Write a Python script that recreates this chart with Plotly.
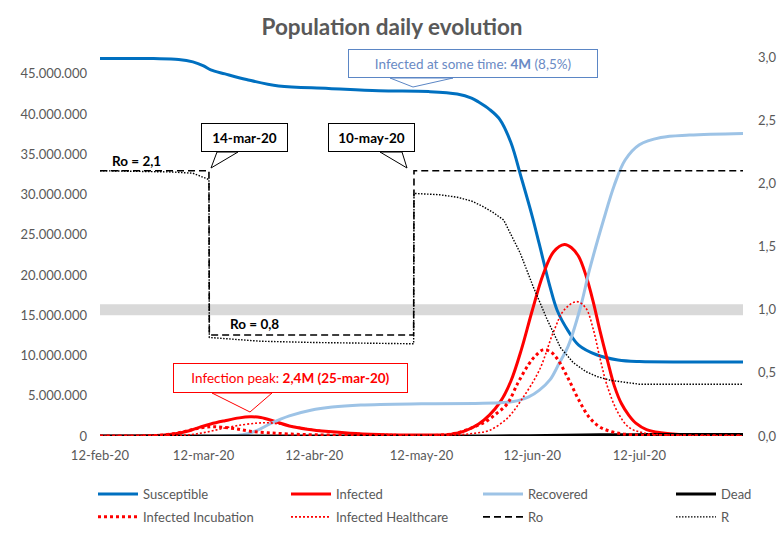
import pandas as pd
import plotly.graph_objects as go

START = pd.Timestamp("2020-02-12")
END_DAY = 180

# ---------------- data (days since 12-feb-20, values in millions / ratio) ----------------
sus_days = [0, 15, 22, 26, 29, 31, 35, 41, 50, 64, 78, 92, 100, 104, 106, 109, 112, 115, 118, 121,
            123, 126, 128, 131, 134, 139, 145, 151, 165, 180]
sus_vals = [46.9, 46.9, 46.8, 46.5, 46.0, 45.5, 45.0, 44.3, 43.5, 43.2, 42.9, 42.8, 42.5, 42.0, 41.5,
            40.6, 39.3, 36.5, 32.0, 27.3, 23.8, 18.5, 15.6, 13.1, 11.3, 10.1, 9.45, 9.25, 9.2, 9.2]

inf_days = [0, 12, 18, 22, 25, 28, 31, 35, 39, 42, 45, 49, 53, 58, 64, 70, 78, 86, 94, 98,
            102, 106, 109, 112, 115, 118, 121, 124, 127, 130, 132, 134, 136, 138, 140, 142, 144, 146,
            148, 150, 153, 157, 163, 170, 180]
inf_vals = [0, 0.02, 0.12, 0.35, 0.65, 1.1, 1.5, 1.9, 2.25, 2.38, 2.3, 1.8, 1.25, 0.85, 0.55, 0.35,
            0.2, 0.13, 0.12, 0.2, 0.6, 1.5, 2.6, 4.2, 6.8, 10.8, 15.6, 20.0, 22.9, 23.8, 23.4, 22.3,
            20.0, 16.8, 13.0, 9.5, 6.2, 4.0, 2.6, 1.6, 0.8, 0.4, 0.15, 0.08, 0.05]

rec_days = [0, 35, 40, 44, 48, 53, 59, 65, 73, 90, 105, 113, 117, 120, 123, 126, 128.5, 131, 134.5,
            137, 141, 144, 147, 151, 157, 165, 180]
rec_vals = [0, 0, 0.15, 0.7, 1.6, 2.5, 3.2, 3.6, 3.85, 4.0, 4.05, 4.15, 4.4, 4.85, 5.7, 7.0, 9.0,
            11.1, 16.0, 20.6, 26.9, 31.2, 34.3, 36.2, 37.1, 37.4, 37.6]

dead_days = [0, 100, 110, 120, 130, 140, 150, 160, 180]
dead_vals = [0, 0.0, 0.01, 0.04, 0.09, 0.14, 0.17, 0.19, 0.2]

inc_days = [0, 15, 20, 24, 28, 31, 34, 38, 42, 47, 53, 60, 70, 85, 95, 100, 104, 108, 111, 114,
            117, 120, 122, 124, 126, 128, 131, 134, 137, 140, 144, 149, 160, 180]
inc_vals = [0, 0.05, 0.25, 0.6, 1.0, 1.15, 1.1, 0.9, 0.6, 0.4, 0.25, 0.15, 0.08, 0.05, 0.1, 0.4,
            1.0, 1.8, 2.8, 4.0, 6.6, 8.9, 10.0, 10.7, 10.5, 9.6, 7.2, 4.5, 2.3, 1.1, 0.45, 0.15,
            0.05, 0.02]

hc_days = [0, 20, 25, 30, 35, 40, 44, 47, 50, 54, 58, 64, 70, 80, 90, 100, 105, 109, 114, 118,
           123, 127, 130, 133.5, 136, 138, 140, 142, 145, 148, 152, 160, 180]
hc_vals = [0, 0.05, 0.15, 0.5, 1.0, 1.4, 1.6, 1.65, 1.5, 1.2, 0.9, 0.55, 0.35, 0.2, 0.12, 0.15,
           0.35, 0.7, 2.2, 4.5, 8.2, 13.0, 15.7, 16.7, 15.9, 13.4, 9.6, 6.2, 2.9, 1.1, 0.4, 0.1, 0.03]

ro_days = [0, 30.5, 30.6, 87.8, 87.9, 180]
ro_vals = [2.1, 2.1, 0.8, 0.8, 2.1, 2.1]

r_days = [0, 20, 26, 29, 30.5, 30.6, 35, 45, 60, 75, 87.8, 87.9, 95, 100, 104, 107, 110, 113,
          117.6, 121.3, 125.2, 128.9, 132.5, 136, 139.2, 143, 147.6, 151, 165, 180]
r_vals = [2.1, 2.09, 2.08, 2.05, 2.03, 0.78, 0.77, 0.75, 0.74, 0.735, 0.73, 1.92, 1.91, 1.89,
          1.86, 1.82, 1.77, 1.71, 1.45, 1.18, 0.92, 0.70, 0.58, 0.51, 0.47, 0.44, 0.42, 0.41,
          0.41, 0.41]

R_THRESHOLD = 1.0

x_tick_days = [0, 29, 60, 90, 121, 151]
x_tick_text = ["12-feb-20", "12-mar-20", "12-abr-20", "12-may-20", "12-jun-20", "12-jul-20"]
y_tick_vals = [0, 5e6, 10e6, 15e6, 20e6, 25e6, 30e6, 35e6, 40e6, 45e6]
y_tick_text = ["0", "5.000.000", "10.000.000", "15.000.000", "20.000.000", "25.000.000",
               "30.000.000", "35.000.000", "40.000.000", "45.000.000"]
y2_tick_vals = [0, 0.5, 1.0, 1.5, 2.0, 2.5, 3.0]
y2_tick_text = ["0,0", "0,5", "1,0", "1,5", "2,0", "2,5", "3,0"]


def dates(days):
    return [START + pd.Timedelta(days=d) for d in days]


def mil(vals):
    return [v * 1e6 for v in vals]


FONT = "Lato"
GREY = "#595959"

fig = go.Figure()


def add(name, days, vals, color, width, dash, legend, yaxis="y", shape="spline"):
    fig.add_trace(go.Scatter(
        x=dates(days), y=vals, name=name, mode="lines", yaxis=yaxis,
        line=dict(color=color, width=width, dash=dash, shape=shape),
        legend=legend, legendgroup=name, hoverinfo="skip"))


add("Susceptible", sus_days, mil(sus_vals), "#0070C0", 3, "solid", "legend")
add("Infected", inf_days, mil(inf_vals), "#FF0000", 3, "solid", "legend2")
add("Recovered", rec_days, mil(rec_vals), "#9DC3E6", 3, "solid", "legend3")
add("Dead", dead_days, mil(dead_vals), "#000000", 3, "solid", "legend4")
add("Infected Incubation", inc_days, mil(inc_vals), "#FF0000", 3, "3px,3px", "legend")
add("Infected Healthcare", hc_days, mil(hc_vals), "#FF0000", 1.6, "2px,2px", "legend2")
add("Ro", ro_days, ro_vals, "#000000", 1.6, "7px,4px", "legend3", yaxis="y2", shape="linear")
add("R", r_days, r_vals, "#000000", 1.4, "1.5px,1.5px", "legend4", yaxis="y2", shape="linear")

# plot area in pixels
PL, PR, PT, PB = 100, 743, 57, 436


def px(xp):
    return (xp - PL) / (PR - PL)


def py(yp):
    return (PB - yp) / (PB - PT)


shapes = [dict(type="line", xref="paper", x0=0, x1=1, yref="y2", y0=R_THRESHOLD, y1=R_THRESHOLD,
               line=dict(color="#D9D9D9", width=11), layer="below")]
annotations = []


def callout(text, box, tail, color, textcolor):
    x0, y0, x1, y1 = box
    a, tip, b = tail
    shapes.append(dict(type="path", xref="paper", yref="paper", layer="above",
                       path=f"M {px(a)},{py(y1)} L {px(tip[0])},{py(tip[1])} L {px(b)},{py(y1)} Z",
                       fillcolor="white", line=dict(color=color, width=1)))
    annotations.append(dict(xref="paper", yref="paper", x=px((x0 + x1) / 2), y=py((y0 + y1) / 2),
                            xanchor="center", yanchor="middle", text=text, showarrow=False,
                            width=x1 - x0 - 2, height=y1 - y0 - 2, borderpad=0, borderwidth=1,
                            bordercolor=color, bgcolor="white",
                            font=dict(family=FONT, size=13.5, color=textcolor)))


callout("<b>14-mar-20</b>", (201, 123, 288, 152), (217, (211, 168), 238), "#000000", "#000000")
callout("<b>10-may-20</b>", (328, 123, 415, 152), (380, (407, 168), 402), "#000000", "#000000")
callout("Infected at some time: <b>4M</b> (8,5%)", (348, 49, 598, 78), (390, (413, 87), 453),
        "#5B86C5", "#6A8AC4")
callout("Infection peak: <b>2,4M (25-mar-20)</b>", (173, 363, 408, 393), (212, (250, 412), 272),
        "#FF0000", "#FF0000")

annotations.append(dict(xref="paper", yref="paper", x=px(136), y=py(161), text="<b>Ro = 2,1</b>",
                        showarrow=False, xanchor="center", yanchor="middle",
                        font=dict(family=FONT, size=13.5, color="#000000")))
annotations.append(dict(xref="paper", yref="paper", x=px(254), y=py(324), text="<b>Ro = 0,8</b>",
                        showarrow=False, xanchor="center", yanchor="middle",
                        font=dict(family=FONT, size=13.5, color="#000000")))

legend_base = dict(xanchor="left", yanchor="top", y=py(479), orientation="v", traceorder="grouped",
                   tracegroupgap=3, itemwidth=40, bgcolor="rgba(0,0,0,0)",
                   font=dict(family=FONT, size=13, color=GREY))

fig.update_layout(
    width=784, height=538,
    margin=dict(l=PL, r=784 - PR, t=PT, b=538 - PB, autoexpand=False),
    paper_bgcolor="white", plot_bgcolor="white",
    font=dict(family=FONT, size=13, color=GREY),
    title=dict(text="<b>Population daily evolution</b>", x=0.5, xanchor="center",
               y=1 - 27 / 538, yanchor="middle", font=dict(family=FONT, size=22.5, color=GREY)),
    xaxis=dict(range=[START, START + pd.Timedelta(days=END_DAY)], tickvals=dates(x_tick_days),
               ticktext=x_tick_text, showgrid=False, zeroline=False, showline=False, ticks="",
               ticklabelstandoff=10, tickfont=dict(size=13, color=GREY)),
    yaxis=dict(range=[0, 47.1e6], tickvals=y_tick_vals, ticktext=y_tick_text, showgrid=False,
               zeroline=False, showline=False, ticks="", ticklabelstandoff=12,
               tickfont=dict(size=13, color=GREY)),
    yaxis2=dict(range=[0, 3], overlaying="y", side="right", tickvals=y2_tick_vals,
                ticktext=y2_tick_text, showgrid=False, zeroline=False, showline=False, ticks="",
                ticklabelstandoff=14, tickfont=dict(size=13, color=GREY)),
    legend=dict(legend_base, x=px(93)),
    legend2=dict(legend_base, x=px(286)),
    legend3=dict(legend_base, x=px(478)),
    legend4=dict(legend_base, x=px(671)),
    shapes=shapes, annotations=annotations,
    showlegend=True, hovermode=False,
)

fig.write_html("out.html")
